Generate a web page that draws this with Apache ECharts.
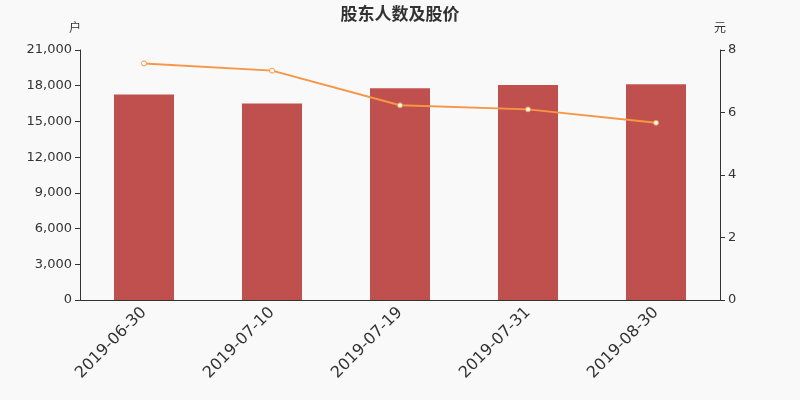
<!DOCTYPE html>
<html lang="zh">
<head>
    <meta charset="UTF-8">
    <title>股东人数及股价</title>
    <style>
        body { margin: 0; background: #f9f9f9; }
        #chart { width: 800px; height: 400px; }
    </style>
</head>
<body>
    <div id="chart"></div>
    <script src="https://cdn.jsdelivr.net/npm/echarts@6/dist/echarts.min.js"></script>
    <script>
        const dates = ['2019-06-30', '2019-07-10', '2019-07-19', '2019-07-31', '2019-08-30'];
        const holders = [17270, 16510, 17780, 18060, 18120];
        const prices = [7.57, 7.34, 6.23, 6.10, 5.67];

        const chart = echarts.init(document.getElementById('chart'));
        const axisColor = '#333';
        const font = '"DejaVu Sans", "Noto Sans CJK SC", sans-serif';

        chart.setOption({
            backgroundColor: '#f9f9f9',
            textStyle: { fontFamily: font },
            title: {
                text: '股东人数及股价',
                left: 'center',
                top: 2,
                textStyle: { fontSize: 17, fontWeight: 'bold', color: '#333', fontFamily: font }
            },
            grid: { left: 80, right: 80, top: 50, bottom: 100 },
            xAxis: {
                type: 'category',
                data: dates,
                axisLine: { lineStyle: { color: axisColor } },
                axisLabel: { rotate: 45, fontSize: 16, color: '#333', margin: 10, fontFamily: font }
            },
            yAxis: [{
                type: 'value',
                name: '户',
                min: 0,
                max: 21000,
                interval: 3000,
                nameTextStyle: { color: '#333', fontSize: 12, padding: [0, 10, 0, 0] },
                axisLine: { show: true, lineStyle: { color: axisColor } },
                axisTick: { show: true },
                splitLine: { show: false },
                axisLabel: {
                    color: '#333', fontSize: 13, fontFamily: font,
                    formatter: v => v.toLocaleString('en-US')
                }
            }, {
                type: 'value',
                name: '元',
                min: 0,
                max: 8,
                interval: 2,
                nameTextStyle: { color: '#333', fontSize: 12 },
                axisLine: { show: true, lineStyle: { color: axisColor } },
                axisTick: { show: true },
                splitLine: { show: false },
                axisLabel: { color: '#333', fontSize: 13, fontFamily: font }
            }],
            series: [{
                type: 'bar',
                data: holders,
                barWidth: 60,
                itemStyle: { color: '#c0504d' }
            }, {
                type: 'line',
                yAxisIndex: 1,
                data: prices,
                symbol: 'circle',
                symbolSize: 5,
                lineStyle: { color: '#f79646', width: 2 },
                itemStyle: { color: '#fff', borderColor: '#f79646', borderWidth: 1 }
            }]
        });
    </script>
</body>
</html>
